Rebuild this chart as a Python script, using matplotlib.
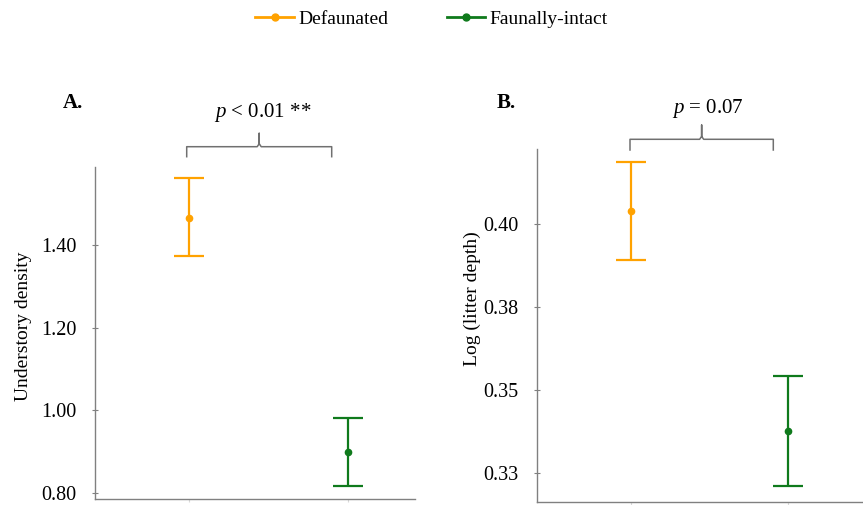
import matplotlib.pyplot as plt
from matplotlib.lines import Line2D
import numpy as np

plt.rcParams['font.family'] = 'Liberation Serif'
plt.rcParams['mathtext.fontset'] = 'custom'
plt.rcParams['mathtext.it'] = 'Liberation Serif:italic'
plt.rcParams['mathtext.rm'] = 'Liberation Serif'

groups = ["Defaunated", "Faunally-intact"]
colors = ["#FFA200", "#0F7A1C"]

# panel A: understory density (mean, lower, upper)
dens_mean = [1.466, 0.898]
dens_low = [1.372, 0.817]
dens_high = [1.561, 0.980]

# panel B: log litter depth
litter_mean = [0.4039, 0.3376]
litter_low = [0.3892, 0.3209]
litter_high = [0.4187, 0.3542]

W, H = 863, 505
fig = plt.figure(figsize=(W / 100, H / 100), dpi=100)

def px(x0, y0, x1, y1):
    # pixel box -> figure rect
    return [x0 / W, 1 - y1 / H, (x1 - x0) / W, (y1 - y0) / H]

def panel(ax, mean, low, high, ylim, ticks, labels, ylabel, xlim, labpos):
    xs = np.arange(1, len(mean) + 1)
    for i in range(len(mean)):
        err = [[mean[i] - low[i]], [high[i] - mean[i]]]
        ax.errorbar(xs[i], mean[i], yerr=err, fmt='o', color=colors[i],
                    ms=4.5, capsize=11, capthick=1.6, elinewidth=1.6)
    ax.set_xlim(xlim)
    ax.set_ylim(ylim)
    ax.set_yticks(ticks)
    ax.set_yticklabels(labels)
    ax.set_xticks(xs)
    ax.set_xticklabels([])
    for s in ['top', 'right']:
        ax.spines[s].set_visible(False)
    for s in ['left', 'bottom']:
        ax.spines[s].set_color('#808080')
        ax.spines[s].set_linewidth(1.0)
    ax.tick_params(axis='y', direction='inout', length=5, color='#808080',
                   labelsize=14.5, pad=11)
    ax.tick_params(axis='x', length=2, color='#d8d8d8')
    ax.set_ylabel(ylabel, fontsize=14)
    ax.yaxis.set_label_coords(*labpos)

axA = fig.add_axes(px(95, 167.3, 415, 499.3))
panel(axA, dens_mean, dens_low, dens_high, (0.784, 1.588),
      [0.8, 1.0, 1.2, 1.4], ["0.80", "1.00", "1.20", "1.40"],
      "Understory density", (0.411, 2.423), (-0.197, 0.522))

axB = fig.add_axes(px(537.3, 149.3, 862, 501.7))
panel(axB, litter_mean, litter_low, litter_high, (0.3163, 0.4224),
      [0.325, 0.35, 0.375, 0.40], ["0.33", "0.35", "0.38", "0.40"],
      "Log (litter depth)", (0.406, 2.471), (-0.173, 0.575))

def bracket(x0, x1, y, yend, ytip):
    xm = (x0 + x1) / 2
    xs = [x0, x0, xm - 2, xm, xm, xm, xm + 2, x1, x1]
    ys = [yend, y, y, y - 3, ytip, y - 3, y, y, yend]
    fig.add_artist(Line2D([v / W for v in xs], [1 - v / H for v in ys],
                          color='#707070', lw=1.1))

bracket(186.7, 331.7, 146.7, 156.7, 133.3)
bracket(630, 773.3, 139.3, 150, 125)

fig.text(263 / W, 1 - 113 / H, r'$\it{p}$ < 0.01 **', fontsize=15,
         ha='center', va='center')
fig.text(708 / W, 1 - 108 / H, r'$\it{p}$ = 0.07', fontsize=15,
         ha='center', va='center')
fig.text(72.7 / W, 1 - 103 / H, 'A.', fontsize=15, fontweight='bold',
         ha='center', va='center')
fig.text(506.7 / W, 1 - 103 / H, 'B.', fontsize=15, fontweight='bold',
         ha='center', va='center')

handles = [Line2D([], [], color=c, marker='o', ms=5, lw=2) for c in colors]
fig.legend(handles, groups, loc='center', bbox_to_anchor=(0.5, 1 - 19 / H),
           ncol=2, frameon=False, fontsize=14, handlelength=2.0,
           columnspacing=3.0, handletextpad=0.2)

fig.savefig('out.png', dpi=100)
